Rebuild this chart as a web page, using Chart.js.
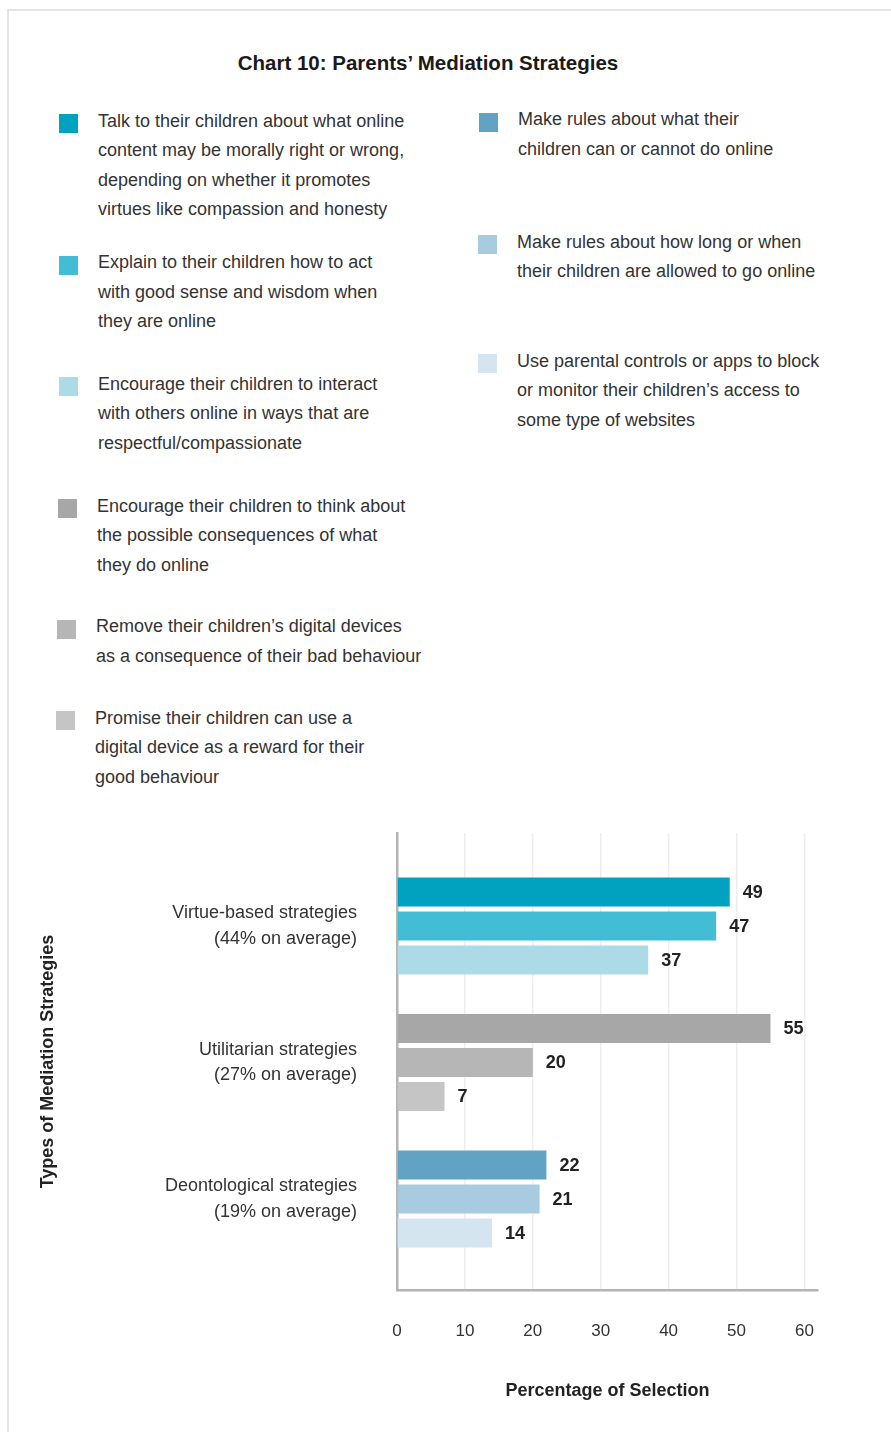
<!DOCTYPE html>
<html>
<head>
<meta charset="utf-8">
<title>Parents’ Mediation Strategies</title>
<script src="https://cdn.jsdelivr.net/npm/chart.js@4.4.0/dist/chart.umd.min.js"></script>
<style>
  html, body { margin: 0; padding: 0; background: #fff; }
  body { width: 891px; height: 1432px; position: relative; overflow: hidden;
         font-family: "Liberation Sans", Arial, sans-serif; color: #333; }
  #frame { position: absolute; left: 7px; top: 9px; width: 900px; height: 1440px; border: 2px solid #e3e3e3; }
  h1 { position: absolute; left: 0; width: 856px; top: 50px; margin: 0; text-align: center;
       font-size: 20.5px; line-height: 26px; font-weight: bold; color: #1a1a1a; }
  .item { position: absolute; font-size: 18px; line-height: 29.6px; white-space: pre-line; }
  .item i { position: absolute; width: 19px; height: 19px; }
  #chart { position: absolute; left: 0; top: 800px; }
</style>
</head>
<body>
<div id="frame"></div>
<h1>Chart 10: Parents’ Mediation Strategies</h1>
<div id="legend"></div>
<canvas id="chart" width="891" height="632"></canvas>

<script>
// strategy groups (y axis) and the three bars of each group
var groups = [
  ['Virtue-based strategies', '(44% on average)'],
  ['Utilitarian strategies', '(27% on average)'],
  ['Deontological strategies', '(19% on average)']
];
var firstBar = [49, 55, 22];
var secondBar = [47, 20, 21];
var thirdBar = [37, 7, 14];
var xTicks = [0, 10, 20, 30, 40, 50, 60];

// legend texts, three per group
var strategies = [
  'Talk to their children about what online\ncontent may be morally right or wrong,\ndepending on whether it promotes\nvirtues like compassion and honesty',
  'Explain to their children how to act\nwith good sense and wisdom when\nthey are online',
  'Encourage their children to interact\nwith others online in ways that are\nrespectful/compassionate',
  'Encourage their children to think about\nthe possible consequences of what\nthey do online',
  'Remove their children’s digital devices\nas a consequence of their bad behaviour',
  'Promise their children can use a\ndigital device as a reward for their\ngood behaviour',
  'Make rules about what their\nchildren can or cannot do online',
  'Make rules about how long or when\ntheir children are allowed to go online',
  'Use parental controls or apps to block\nor monitor their children’s access to\nsome type of websites'
];

// colours: one row per group, darkest first
var palette = [
  ['#00a2bf', '#42bdd3', '#acdbe8'],
  ['#a8a7a8', '#b6b6b6', '#c6c5c6'],
  ['#62a2c2', '#a8cbe0', '#d5e5ef']
];

// legend placement: square left, text left, first line centre
var legendSpots = [
  [59, 98, 121.5], [59, 98, 263], [59, 98, 384.5],
  [58, 97, 506.5], [57, 96, 627], [56, 95, 718.5],
  [479, 518, 120], [478, 517, 242.5], [478, 517, 361.5]
];

var legend = document.getElementById('legend');
strategies.forEach(function (text, k) {
  var spot = legendSpots[k];
  var top = spot[2] - 14.8;
  var el = document.createElement('div');
  el.className = 'item';
  el.style.left = spot[1] + 'px';
  el.style.top = top + 'px';
  el.textContent = text;
  var sq = document.createElement('i');
  sq.style.left = (spot[0] - spot[1]) + 'px';
  sq.style.top = '7.8px';
  sq.style.background = palette[Math.floor(k / 3)][k % 3];
  el.appendChild(sq);
  legend.appendChild(el);
});

Chart.defaults.font.family = '"Liberation Sans", Arial, sans-serif';

// value written just past the end of each bar
var barValueLabels = {
  id: 'barValueLabels',
  afterDatasetsDraw: function (chart) {
    var ctx = chart.ctx;
    ctx.save();
    ctx.font = 'bold 18px "Liberation Sans", Arial, sans-serif';
    ctx.fillStyle = '#222';
    ctx.textBaseline = 'middle';
    chart.data.datasets.forEach(function (ds, d) {
      chart.getDatasetMeta(d).data.forEach(function (bar, i) {
        ctx.fillText(ds.data[i].x, bar.x + 13, bar.y + 1);
      });
    });
    ctx.restore();
  }
};

var rows = [firstBar, secondBar, thirdBar];
var datasets = rows.map(function (values, r) {
  return {
    data: values.map(function (v, i) { return { x: v, y: i }; }),
    backgroundColor: palette.map(function (p) { return p[r]; }),
    categoryPercentage: 0.747,
    barPercentage: 0.853
  };
});

var ctx = document.getElementById('chart').getContext('2d');
var chart = new Chart(ctx, {
  type: 'bar',
  data: { datasets: datasets },
  plugins: [barValueLabels],
  options: {
    indexAxis: 'y',
    responsive: false,
    animation: false,
    layout: { padding: { top: 33, right: 73, left: 0, bottom: 0 } },
    plugins: {
      legend: { display: false },
      tooltip: { enabled: false }
    },
    scales: {
      y: {
        type: 'linear',
        reverse: true,
        offset: false,
        min: -0.681,
        max: 2.667,
        afterBuildTicks: function (s) {
          s.ticks = groups.map(function (g, i) { return { value: i }; });
        },
        afterFit: function (s) {
          s.width = 397;
          s.paddingTop = 0;
          s.paddingBottom = 0;
        },
        ticks: {
          callback: function (v) { return groups[v]; },
          padding: 40,
          color: '#333',
          font: { size: 18, lineHeight: 1.4 }
        },
        grid: { display: false, drawTicks: false, offset: false },
        border: { color: '#b4b4b4', width: 2.5 },
        title: {
          display: true,
          text: 'Types of Mediation Strategies',
          color: '#222',
          font: { size: 18, weight: 'bold' },
          padding: { top: 37 }
        }
      },
      x: {
        min: 0,
        max: 62,
        afterBuildTicks: function (s) {
          s.ticks = xTicks.map(function (v) { return { value: v }; });
        },
        afterFit: function (s) { s.height = 142; },
        ticks: { padding: 31, color: '#333', font: { size: 17 } },
        grid: { color: '#eeeeee', lineWidth: 1.5, drawTicks: false },
        border: { color: '#b4b4b4', width: 2.5 },
        title: {
          display: true,
          text: 'Percentage of Selection',
          color: '#222',
          font: { size: 18, weight: 'bold' },
          padding: { bottom: 30 }
        }
      }
    }
  }
});
</script>
</body>
</html>
